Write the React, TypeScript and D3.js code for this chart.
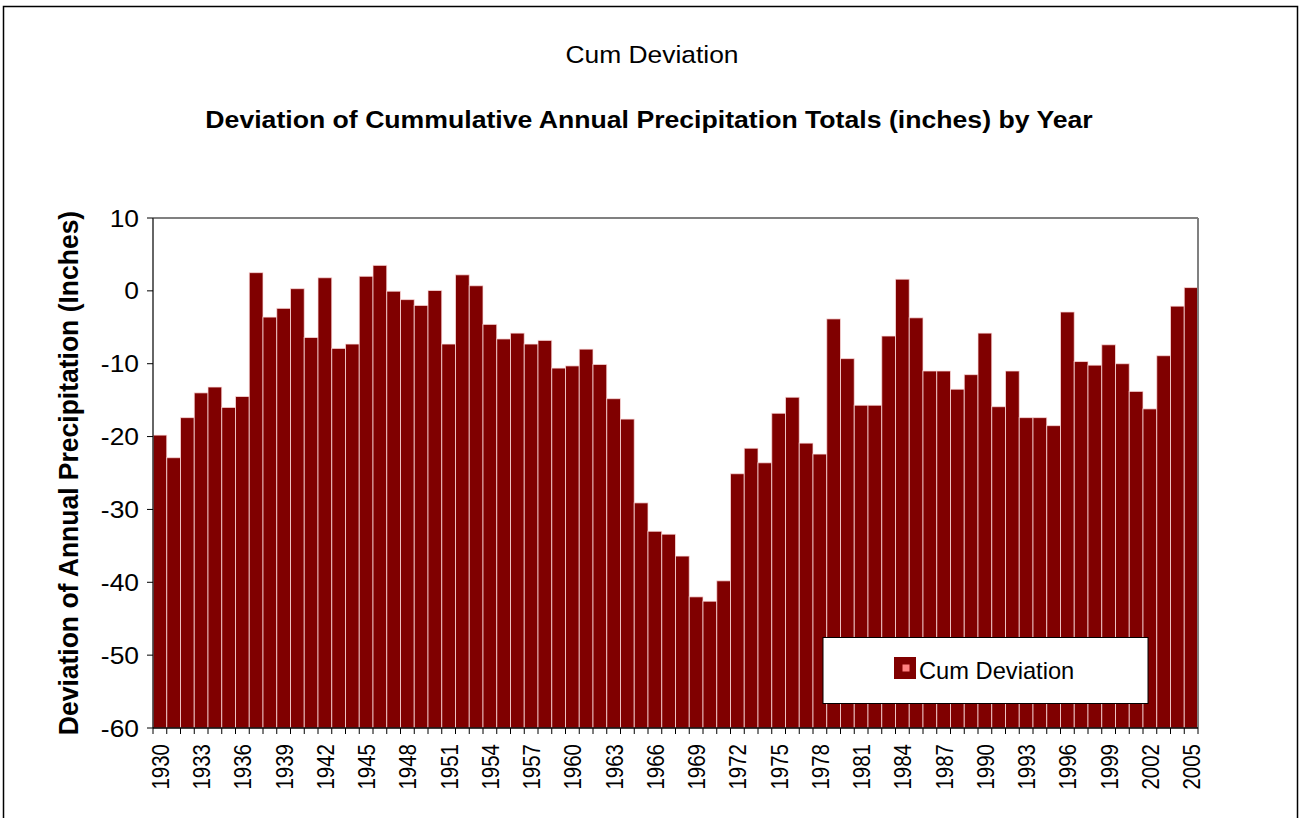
import React from 'react';
import * as d3 from 'd3';

const years = [
  1930, 1931, 1932, 1933, 1934, 1935, 1936, 1937, 1938, 1939,
  1940, 1941, 1942, 1943, 1944, 1945, 1946, 1947, 1948, 1949,
  1950, 1951, 1952, 1953, 1954, 1955, 1956, 1957, 1958, 1959,
  1960, 1961, 1962, 1963, 1964, 1965, 1966, 1967, 1968, 1969,
  1970, 1971, 1972, 1973, 1974, 1975, 1976, 1977, 1978, 1979,
  1980, 1981, 1982, 1983, 1984, 1985, 1986, 1987, 1988, 1989,
  1990, 1991, 1992, 1993, 1994, 1995, 1996, 1997, 1998, 1999,
  2000, 2001, 2002, 2003, 2004, 2005,
];

// cumulative deviation (inches)
const cumDeviation = [
  -19.8, -22.9, -17.4, -14.0, -13.2, -16.0, -14.5, 2.5, -3.6, -2.4,
  0.3, -6.4, 1.8, -7.9, -7.3, 2.0, 3.5, -0.05, -1.2, -2.0,
  0.05, -7.3, 2.2, 0.7, -4.6, -6.6, -5.8, -7.3, -6.8, -10.6,
  -10.3, -8.0, -10.1, -14.8, -17.6, -29.1, -33.0, -33.4, -36.4, -42.0,
  -42.6, -39.8, -25.1, -21.6, -23.6, -16.8, -14.6, -20.9, -22.4, -3.85,
  -9.3, -15.7, -15.7, -6.2, 1.6, -3.7, -11.0, -11.0, -13.5, -11.5,
  -5.8, -15.9, -11.0, -17.4, -17.4, -18.5, -2.9, -9.7, -10.2, -7.4,
  -10.0, -13.8, -16.2, -8.9, -2.1, 0.45,
];

const yTicks = [10, 0, -10, -20, -30, -40, -50, -60];

const chartTitle = 'Cum Deviation';
const subTitle = 'Deviation of Cummulative Annual Precipitation Totals (inches) by Year';
const yAxisTitle = 'Deviation of Annual Precipitation (Inches)';
const seriesName = 'Cum Deviation';

const W = 1301;
const H = 818;
const plot = { left: 153, right: 1198, top: 218, bottom: 728 };
const SX = 1.1; // the picture is a little stretched sideways
const FONT = '"Liberation Sans", Arial, sans-serif';
const BAR = '#800000';

export default function App() {
  const x = d3
    .scaleBand<number>()
    .domain(years)
    .range([plot.left, plot.right])
    .padding(0);
  const y = d3.scaleLinear().domain([-60, 10]).range([plot.bottom, plot.top]);
  const bw = x.bandwidth();

  return (
    <div style={{ position: 'fixed', left: 0, top: 0 }}>
      <svg width={W} height={H} style={{ display: 'block', background: '#fff' }} fontFamily={FONT}>
        <rect x={3.5} y={6.5} width={1294} height={900} fill="#fff" stroke="#000" strokeWidth={1.5} />

        <g transform={`translate(652,63) scale(${SX},1)`}>
          <text textAnchor="middle" fontSize={24} fill="#000">{chartTitle}</text>
        </g>
        <g transform={`translate(649,128) scale(1.11,1)`}>
          <text textAnchor="middle" fontSize={24} fontWeight="bold" fill="#000">{subTitle}</text>
        </g>

        {/* bars */}
        {years.map((yr, i) => (
          <rect
            key={yr}
            x={x(yr)}
            y={y(cumDeviation[i])}
            width={bw}
            height={y(-60) - y(cumDeviation[i])}
            fill={BAR}
            stroke="#ffe0e0"
            strokeOpacity={0.75}
            strokeWidth={1}
          />
        ))}

        {/* frame: top and right grey */}
        <line x1={plot.left} x2={plot.right} y1={plot.top} y2={plot.top} stroke="#808080" strokeWidth={2} />
        <line x1={plot.right} x2={plot.right} y1={plot.top} y2={plot.bottom} stroke="#808080" strokeWidth={2} />

        {/* y axis */}
        <line x1={plot.left} x2={plot.left} y1={plot.top} y2={plot.bottom} stroke="#333" strokeWidth={1.5} />
        {yTicks.map((t) => (
          <g key={t}>
            <line x1={plot.left - 6} x2={plot.left} y1={y(t)} y2={y(t)} stroke="#000" strokeWidth={1} />
            <g transform={`translate(139,${y(t) + 8.5}) scale(${SX},1)`}>
              <text textAnchor="end" fontSize={24} fill="#000">{t}</text>
            </g>
          </g>
        ))}

        {/* x axis */}
        <line x1={plot.left} x2={plot.right} y1={plot.bottom} y2={plot.bottom} stroke="#000" strokeWidth={1.5} />
        {years.map((yr) => (
          <line
            key={yr}
            x1={(x(yr) as number)}
            x2={(x(yr) as number)}
            y1={plot.bottom}
            y2={plot.bottom + 6}
            stroke="#000"
            strokeWidth={1}
          />
        ))}
        <line x1={plot.right} x2={plot.right} y1={plot.bottom} y2={plot.bottom + 6} stroke="#000" strokeWidth={1} />
        {years
          .filter((_, i) => i % 3 === 0 || i === years.length - 1)
          .map((yr) => (
            <g key={yr} transform={`translate(${(x(yr) as number) + bw / 2 + 9},744) scale(1.2,1) rotate(-90)`}>
              <text textAnchor="end" fontSize={20.5} fill="#000">{yr}</text>
            </g>
          ))}

        {/* y axis title */}
        <g transform={`translate(78,${(plot.top + plot.bottom) / 2}) scale(1.05,1) rotate(-90)`}>
          <text textAnchor="middle" fontSize={26.5} fontWeight="bold" fill="#000">{yAxisTitle}</text>
        </g>

        {/* legend */}
        <rect x={823} y={637.5} width={325} height={66} fill="#fff" stroke="#000" strokeWidth={1} />
        <rect x={894} y={657} width={22} height={22} fill={BAR} />
        <rect x={902.5} y={664.5} width={7} height={7} fill="#ff8080" />
        <g transform={`translate(919,679) scale(1.03,1)`}>
          <text fontSize={23} fill="#000">{seriesName}</text>
        </g>
      </svg>
    </div>
  );
}
